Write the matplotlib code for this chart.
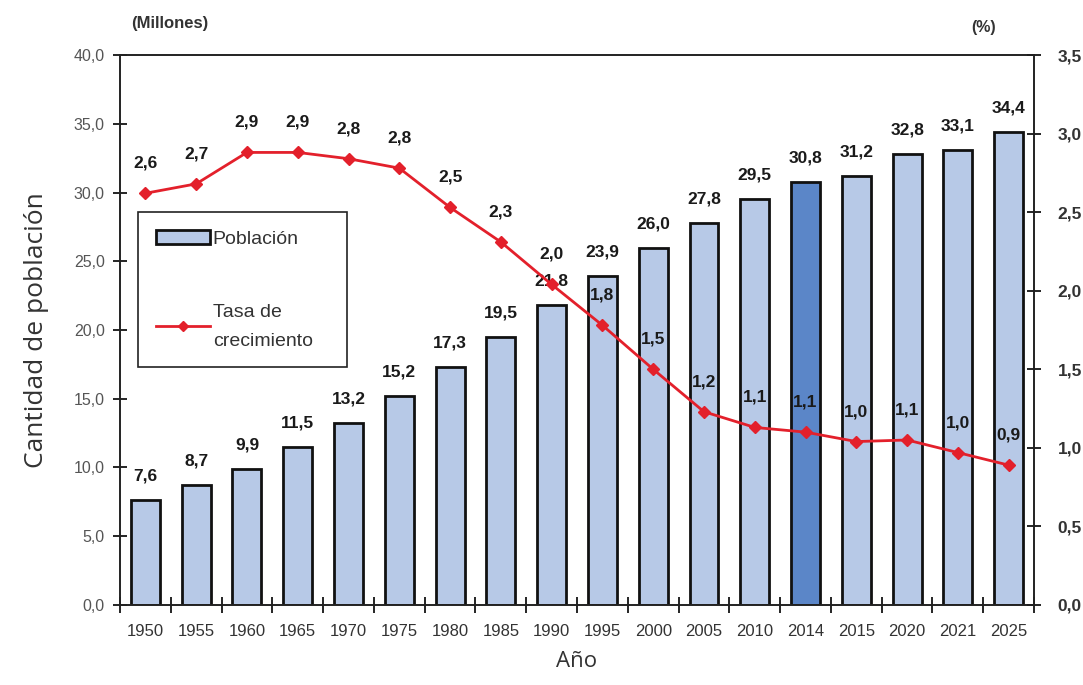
import matplotlib
matplotlib.use("Agg")
import matplotlib.pyplot as plt
from matplotlib.lines import Line2D
from matplotlib.patches import Patch
from matplotlib.ticker import FuncFormatter, FixedLocator

# Datos
anios = ["1950", "1955", "1960", "1965", "1970", "1975", "1980", "1985", "1990",
         "1995", "2000", "2005", "2010", "2014", "2015", "2020", "2021", "2025"]
poblacion = [7.6, 8.7, 9.9, 11.5, 13.2, 15.2, 17.3, 19.5, 21.8,
             23.9, 26.0, 27.8, 29.5, 30.8, 31.2, 32.8, 33.1, 34.4]
tasa = [2.62, 2.68, 2.88, 2.88, 2.84, 2.78, 2.53, 2.31, 2.04,
        1.78, 1.50, 1.23, 1.13, 1.10, 1.04, 1.05, 0.97, 0.89]
anio_destacado = "2014"

color_barra = "#b7c9e7"
color_destacado = "#5b86c8"
color_linea = "#e3202b"

plt.rcParams["font.family"] = ["Liberation Sans", "DejaVu Sans"]

def coma(v, decimales=1):
    return f"{v:.{decimales}f}".replace(".", ",")

fig = plt.figure(figsize=(10.83, 6.85), dpi=100)
ax = fig.add_axes([0.1108, 0.1168, 0.8440, 0.8029])
ax2 = ax.twinx()

x = list(range(len(anios)))
colores = [color_destacado if a == anio_destacado else color_barra for a in anios]
ax.bar(x, poblacion, width=0.57, color=colores, edgecolor="#111111",
       linewidth=2.0, zorder=2)

ax.set_xlim(-0.5, len(anios) - 0.5)
ax.set_ylim(0, 40)
ax2.set_ylim(0, 3.5)

# Eje izquierdo
ax.set_yticks([0, 5, 10, 15, 20, 25, 30, 35, 40])
ax.yaxis.set_major_formatter(FuncFormatter(lambda v, p: coma(v)))
ax.tick_params(axis="y", direction="inout", length=10, width=1.2,
               labelsize=11.5, labelcolor="#555555", pad=6)

# Eje x: etiquetas centradas, marcas entre categorías
ax.set_xticks(x)
ax.set_xticklabels(anios, fontsize=12, color="#333333")
ax.tick_params(axis="x", which="major", length=0, pad=14)
ax.xaxis.set_minor_locator(FixedLocator([i - 0.5 for i in range(len(anios) + 1)]))
ax.tick_params(axis="x", which="minor", direction="inout", length=12, width=1.2)

# Eje derecho
ax2.set_yticks([0, 0.5, 1.0, 1.5, 2.0, 2.5, 3.0, 3.5])
ax2.yaxis.set_major_formatter(FuncFormatter(lambda v, p: coma(v)))
ax2.tick_params(axis="y", direction="inout", length=10, width=1.2,
                labelsize=12.5, labelcolor="#333333", pad=12)
for lab in ax2.get_yticklabels():
    lab.set_fontweight("bold")

for a in (ax, ax2):
    for s in a.spines.values():
        s.set_linewidth(1.2)
        s.set_color("#222222")

# Línea de tasa de crecimiento
ax2.plot(x, tasa, color=color_linea, linewidth=2.0, marker="D", markersize=6,
         markeredgecolor=color_linea, zorder=3)

# Etiquetas de valores
for xi, v in zip(x, poblacion):
    ax.annotate(coma(v), (xi, v), xytext=(0, 24), textcoords="offset pixels",
                ha="center", va="center", fontsize=12.5, fontweight="bold",
                color="#1a1a1a", zorder=4)
for xi, v in zip(x, tasa):
    ax2.annotate(coma(v), (xi, v), xytext=(0, 30), textcoords="offset pixels",
                 ha="center", va="center", fontsize=12.5, fontweight="bold",
                 color="#1a1a1a", zorder=4)

# Títulos de ejes
ax.set_ylabel("Cantidad de población", fontsize=19, color="#333333",
              labelpad=18, family=["Open Sans", "DejaVu Sans"])
ax.set_xlabel("Año", fontsize=16, color="#333333", labelpad=8,
              family=["Open Sans", "DejaVu Sans"])
fig.text(0.121, 0.966, "(Millones)", fontsize=12, fontweight="bold",
         color="#333333", ha="left", va="center")
fig.text(0.908, 0.960, "(%)", fontsize=11.5, fontweight="bold",
         color="#333333", ha="center", va="center")

# Leyenda
handles = [
    Patch(facecolor=color_barra, edgecolor="#111111", linewidth=2.0),
    Line2D([0], [0], color=color_linea, linewidth=2.0, marker="D", markersize=5),
]
leg = ax2.legend(handles, ["Población", "Tasa de\ncrecimiento"],
                 loc="upper left", bbox_to_anchor=(0.0197, 0.431, 0.2287, 0.2835),
                 mode="expand",
                 fontsize=14, frameon=True, fancybox=False, framealpha=1,
                 edgecolor="#222222", borderpad=0.9, labelspacing=2.9,
                 handlelength=2.8, handletextpad=0.15, handleheight=0.8,
                 borderaxespad=0)
leg.get_frame().set_linewidth(1.2)
for t in leg.get_texts():
    t.set_color("#333333")
    t.set_linespacing(1.9)
leg.set_zorder(5)

fig.savefig("out.png", dpi=100)
